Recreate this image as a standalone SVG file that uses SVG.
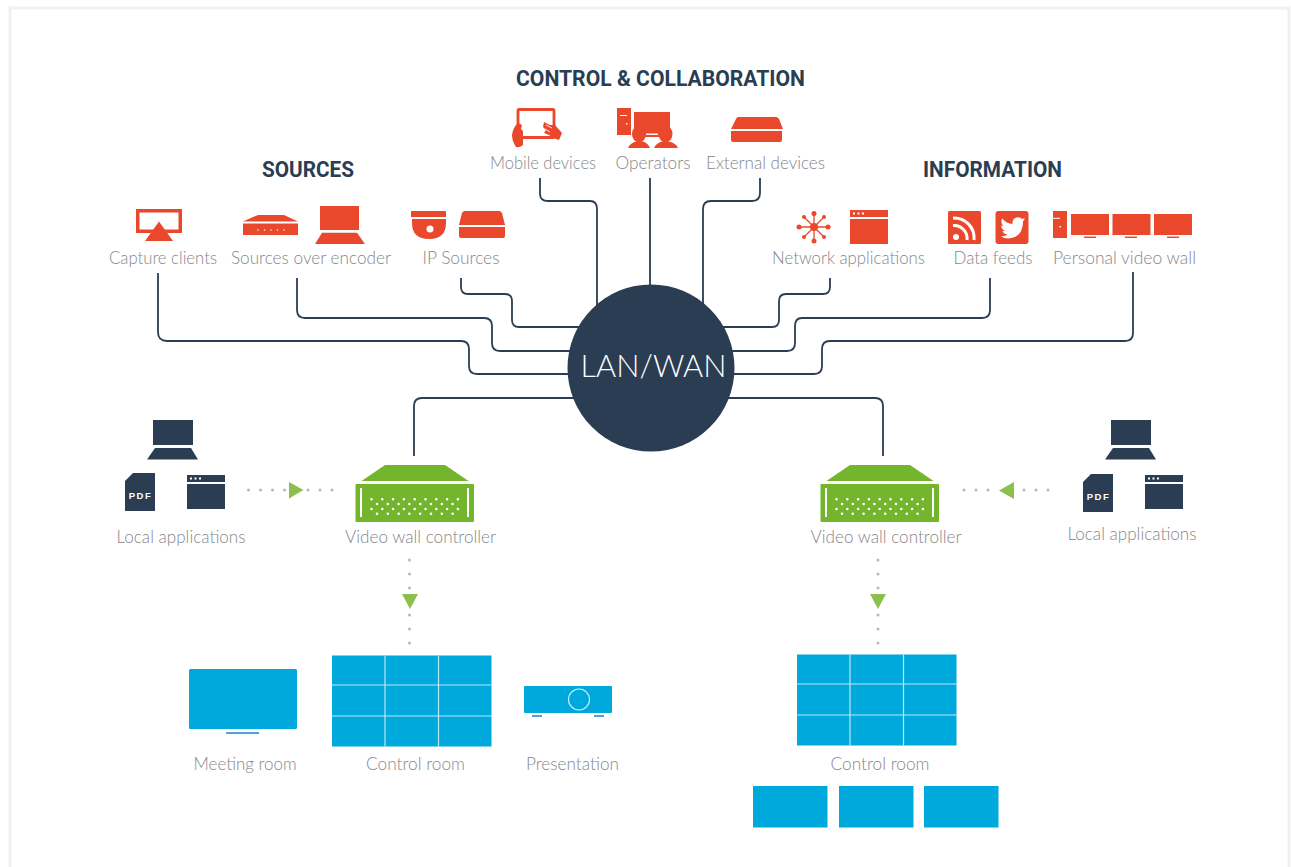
<svg xmlns="http://www.w3.org/2000/svg" width="1291" height="867" viewBox="0 0 1291 867">
<style>
.lb{font-family:"Lato","Inter","Liberation Sans",sans-serif;font-weight:300;font-size:17px;fill:#85878a;text-anchor:middle}
.ti{font-family:"Roboto","Liberation Sans",sans-serif;font-weight:700;font-size:22px;fill:#2a3d52;text-anchor:middle}
.r{fill:#e9482c}.d{fill:#2a3d52}.g{fill:#73b52d}.b{fill:#00a9dc}.w{fill:#fff}
.c{fill:none;stroke:#2a3d52;stroke-width:1.800}
.dot{fill:none;stroke:#b5b7b8;stroke-width:3;stroke-linecap:round;stroke-dasharray:0 12}
.tri{fill:#8cbf4e}
.gl{stroke:#bfe6f4;stroke-width:1.200;fill:none}
.vd{fill:none;stroke:#fff;stroke-width:2.600;stroke-linecap:round;stroke-dasharray:0 10.800}
</style>
<defs>
<g id="laptopD"><rect x="153" y="420" width="40" height="25"/><path d="M155 448H191L198 459.500H147Z"/></g>
<g id="ctrl">
<path class="g" d="M361.500 481L385 465H445L468.500 481Z"/>
<rect class="g" x="355.500" y="484" width="118.500" height="38" rx="1"/>
<path d="M361 488V517M468 488V517" stroke="#fff" stroke-width="2" fill="none"/>
<path class="vd" d="M371.500 499.300H460M377 504H455M371.500 509H460M377 513.700H455"/>
</g>
<g id="wall"><rect class="b" width="159.500" height="91"/><path class="gl" d="M53 0V91M106.500 0V91M0 29.500H159.500M0 60.500H159.500"/></g>
</defs>
<rect x="10" y="8" width="1279" height="870" fill="#fff" stroke="#f0f0f0" stroke-width="3"/>

<g id="connectors">
<path class="c" d="M158 273V332Q158 341 167 341H461Q469 341 469 349V366Q469 374 477 374H575"/>
<path class="c" d="M297 278V310Q297 318 305 318H484Q492 318 492 326V343Q492 351 500 351H580"/>
<path class="c" d="M461 278V287Q461 294 468 294H505Q512 294 512 301V320Q512 327 519 327H585"/>
<path class="c" d="M540 178V194Q540 201 548 201H590Q597 201 597 209V310"/>
<path class="c" d="M650 178V290"/>
<path class="c" d="M760 178V193Q760 201 752 201H711Q703 201 703 209V310"/>
<path class="c" d="M830 278V287Q830 294 823 294H786Q779 294 779 301V320Q779 327 772 327H715"/>
<path class="c" d="M990 278V310Q990 318 982 318H802Q795 318 795 326V343Q795 351 787 351H725"/>
<path class="c" d="M1133 272V333Q1133 341 1125 341H830Q822 341 822 349V366Q822 374 814 374H730"/>
<path class="c" d="M414 456V406Q414 398 422 398H580"/>
<path class="c" d="M883 456V406Q883 398 875 398H720"/>
<path class="dot" d="M248.500 490H286"/>
<path class="dot" d="M308 490H334"/>
<path class="dot" d="M964 490H990"/>
<path class="dot" d="M1024 490H1050"/>
<path class="dot" style="stroke-dasharray:0 14" d="M409.500 560V590M409.500 615V645M878 560V590M878 615V645"/>
<path class="tri" d="M289 482L303.500 490L289 498.500Z"/>
<path class="tri" d="M1014 482L999 490.500L1014 499Z"/>
<path class="tri" d="M402 594H418L410 609Z"/>
<path class="tri" d="M870 594H886L878 609Z"/>
</g>

<g id="lan-wan"><circle class="d" cx="651" cy="368" r="83.500"/>
<text x="653.500" y="376.500" text-anchor="middle" font-family="Lato,'Open Sans',sans-serif" font-weight="300" font-size="32" fill="#fff" textLength="146" lengthAdjust="spacingAndGlyphs">LAN/WAN</text></g>

<text class="ti" x="660.500" y="85.500" textLength="289" lengthAdjust="spacingAndGlyphs">CONTROL &amp; COLLABORATION</text>
<text class="ti" x="308" y="177" textLength="92" lengthAdjust="spacingAndGlyphs">SOURCES</text>
<text class="ti" x="992.500" y="177" textLength="139" lengthAdjust="spacingAndGlyphs">INFORMATION</text>

<g id="capture-clients">
<path class="r" fill-rule="evenodd" d="M136 209H182V233H167L164 229.500H178.500V212.500H139.500V229.500H154L151 233H136Z"/>
<path class="r" d="M159 221.500L173 241H145Z"/>
<text class="lb" x="163" y="264" textLength="108" lengthAdjust="spacingAndGlyphs">Capture clients</text></g>

<g id="sources-over-encoder">
<path class="r" d="M243 221.500L258 215H284L298 221.500Z"/>
<rect class="r" x="243" y="223.500" width="55" height="11.500"/>
<path d="M258 230H285" fill="none" stroke="#fff" stroke-width="1.600" stroke-linecap="round" stroke-dasharray="0 6.500"/>
<rect class="r" x="320" y="206" width="39" height="24"/><path class="r" d="M322 232.700H357L365 244H315Z"/>
<text class="lb" x="311" y="264" textLength="160" lengthAdjust="spacingAndGlyphs">Sources over encoder</text></g>

<g id="ip-sources">
<rect class="r" x="411" y="211" width="35" height="6"/>
<path class="r" d="M412 219H446V223Q446 239 429 239Q412 239 412 223Z"/>
<circle class="w" cx="430" cy="229" r="3.500"/>
<path class="r" d="M465 211H499Q501 211 502 213L505 225H459L462 213Q463 211 465 211Z"/>
<path class="r" d="M459 227H505V236Q505 238 503 238H461Q459 238 459 236Z"/>
<text class="lb" x="461" y="264" textLength="77" lengthAdjust="spacingAndGlyphs">IP Sources</text></g>

<g id="mobile-devices">
<rect x="518" y="109.500" width="36" height="28" fill="none" stroke="#e9482c" stroke-width="2.800" rx="1"/>
<path class="r" d="M518 123L522 125L521 129L523 131L523 145Q519 148 516 147Q512 141 512 135Q513 127 518 123Z"/>
<path class="r" d="M544 122L550 125L555 125L562 133L559 140L553 138L549 135L544 133L546 130L543 127Z"/>
<path d="M546 125L552 128M545 129L550 132" stroke="#fff" stroke-width=".8" fill="none"/>
<text class="lb" x="543" y="169" textLength="106" lengthAdjust="spacingAndGlyphs">Mobile devices</text></g>

<g id="operators">
<path class="r" d="M617 108H631V135H617Z"/>
<rect class="w" x="620" y="115" width="7" height="1"/><rect class="w" x="626" y="123" width="1.500" height="1.500"/>
<path class="r" d="M634 112H670V137H634Z"/>
<rect class="w" x="646" y="133.500" width="12" height="1.400"/>
<ellipse class="r" cx="639" cy="134" rx="7" ry="8.500"/><ellipse class="r" cx="665.500" cy="134" rx="7" ry="8.500"/>
<path class="r" d="M628 148Q630 143 636 141.500H643Q648 143 650 148Z"/>
<path class="r" d="M654 148Q656 143 662 141.500H669Q676 143 678 148Z"/>
<text class="lb" x="653" y="169" textLength="75" lengthAdjust="spacingAndGlyphs">Operators</text></g>

<g id="external-devices">
<path class="r" d="M738 117H776Q778 117 779 119L783 129H731L736 119Q737 117 738 117Z"/>
<path class="r" d="M731 131H782V140Q782 142 780 142H733Q731 142 731 140Z"/>
<text class="lb" x="765.500" y="169" textLength="119" lengthAdjust="spacingAndGlyphs">External devices</text></g>

<g id="network-applications">
<text class="lb" x="848.500" y="264" textLength="153" lengthAdjust="spacingAndGlyphs">Network applications</text>
<path d="M814 214V240M797.500 227H830.500M803 216L825 238M825 216L803 238" stroke="#e9482c" stroke-width="1.300" fill="none"/>
<g class="r"><circle cx="814" cy="227" r="4"/><circle cx="814" cy="213.500" r="2.500"/><circle cx="814" cy="241" r="2.500"/><circle cx="799" cy="227" r="2.500"/><circle cx="828" cy="227" r="2.500"/><circle cx="804" cy="217" r="2"/><circle cx="824" cy="217" r="2"/><circle cx="804" cy="237" r="2"/><circle cx="824" cy="237" r="2"/></g>
<path class="r" fill-rule="evenodd" d="M850 210H888V217H850ZM853 212.500V214.500H855V212.500ZM857.500 212.500V214.500H859.500V212.500ZM862 212.500V214.500H864V212.500Z"/>
<rect class="r" x="850" y="219" width="38" height="25"/></g>

<g id="data-feeds">
<rect class="r" x="948" y="211" width="33" height="33" rx="1.500"/>
<circle class="w" cx="956" cy="237" r="3"/>
<path d="M953 225.500A13 13 0 0 1 967 240M953 218A20 20 0 0 1 974 240" fill="none" stroke="#fff" stroke-width="3"/>
<rect class="r" x="995.500" y="211" width="33" height="33" rx="3"/>
<path class="w" d="M1023 219.500L1025 218.500L1023 221.500Q1023 233 1015 237Q1007 240 1001 236.500Q1005 236.500 1007.500 234.500Q1003.500 234 1002.500 231L1005 231Q1001.500 229.500 1001 225.500L1003.500 226.300Q1000 222.500 1002.200 218.500Q1006.500 223.500 1012.500 224Q1012 219 1016.500 217.500Q1020 216.500 1022 219L1025 218Z"/>
<text class="lb" x="993" y="264" textLength="79" lengthAdjust="spacingAndGlyphs">Data feeds</text></g>

<g id="personal-video-wall">
<rect class="r" x="1053" y="211" width="14" height="27"/>
<rect class="w" x="1053" y="217.800" width="7" height="1"/><rect class="w" x="1059.500" y="226" width="1.500" height="1.500"/>
<rect class="r" x="1071" y="214" width="38" height="21"/><rect class="r" x="1112.500" y="214" width="38" height="21"/><rect class="r" x="1154" y="214" width="38" height="21"/>
<path class="r" d="M1084 236.500H1096V238H1084ZM1125 236.500H1137V238H1125ZM1167 236.500H1179V238H1167Z"/>
<text class="lb" x="1124.500" y="264" textLength="143" lengthAdjust="spacingAndGlyphs">Personal video wall</text></g>

<g id="local-applications-left" class="d">
<use href="#laptopD"/>
<path d="M133 473H155V511H125V481Z"/>
<text x="140.500" y="499" text-anchor="middle" font-family="'Liberation Sans',sans-serif" font-weight="700" font-size="9.500" letter-spacing="1.500" fill="#fff">PDF</text>
<path fill-rule="evenodd" d="M187 475H225V482H187ZM190 477.500V479.500H192V477.500ZM194.500 477.500V479.500H196.500V477.500ZM199 477.500V479.500H201V477.500Z"/>
<rect x="187" y="484" width="38" height="25"/>
<text class="lb" x="181" y="543" textLength="129" lengthAdjust="spacingAndGlyphs">Local applications</text></g>

<g id="local-applications-right" class="d">
<use href="#laptopD" x="958"/>
<path d="M1091 474H1113V512H1083V482Z"/>
<text x="1098.500" y="500" text-anchor="middle" font-family="'Liberation Sans',sans-serif" font-weight="700" font-size="9.500" letter-spacing="1.500" fill="#fff">PDF</text>
<path fill-rule="evenodd" d="M1145 475H1183V482H1145ZM1148 477.500V479.500H1150V477.500ZM1152.500 477.500V479.500H1154.500V477.500ZM1157 477.500V479.500H1159V477.500Z"/>
<rect x="1145" y="484" width="38" height="25"/>
<text class="lb" x="1132" y="540" textLength="129" lengthAdjust="spacingAndGlyphs">Local applications</text></g>

<g id="video-wall-controller-left"><use href="#ctrl"/>
<text class="lb" x="420.500" y="543" textLength="151" lengthAdjust="spacingAndGlyphs">Video wall controller</text></g>
<g id="video-wall-controller-right"><use href="#ctrl" x="465"/>
<text class="lb" x="886" y="543" textLength="151" lengthAdjust="spacingAndGlyphs">Video wall controller</text></g>

<g id="meeting-room">
<rect class="b" x="189" y="669" width="108" height="60" rx="1.500"/>
<rect x="226" y="732" width="33" height="2" fill="#4fa3dc"/>
<text class="lb" x="245" y="770" textLength="103" lengthAdjust="spacingAndGlyphs">Meeting room</text></g>

<g id="control-room-left"><use href="#wall" x="332" y="655.500"/>
<text class="lb" x="415.500" y="770" textLength="99" lengthAdjust="spacingAndGlyphs">Control room</text></g>

<g id="presentation">
<rect class="b" x="524" y="686" width="88" height="27" rx="1"/>
<circle cx="579" cy="699.500" r="10.500" fill="none" stroke="#d5eff8" stroke-width="1.100"/>
<path d="M532 716H542M594 716H604" stroke="#4fa3dc" stroke-width="1.800"/>
<text class="lb" x="572.500" y="770" textLength="93" lengthAdjust="spacingAndGlyphs">Presentation</text></g>

<g id="control-room-right"><use href="#wall" x="797" y="654.500"/>
<text class="lb" x="880" y="770" textLength="99" lengthAdjust="spacingAndGlyphs">Control room</text>
<rect class="b" x="753" y="786" width="74.500" height="41.500"/><rect class="b" x="839" y="786" width="74.500" height="41.500"/><rect class="b" x="924" y="786" width="74.500" height="41.500"/></g>
</svg>
